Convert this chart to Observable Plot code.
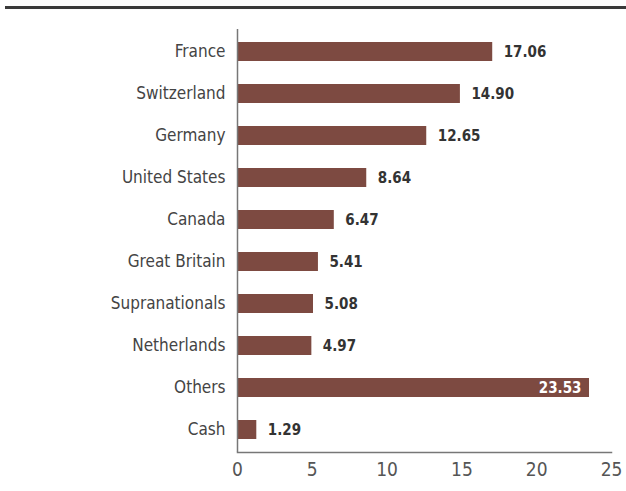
<!DOCTYPE html>
<html>
<head>
<meta charset="utf-8">
<script src="https://cdn.jsdelivr.net/npm/d3@7"></script>
<script src="https://cdn.jsdelivr.net/npm/@observablehq/plot@0.6"></script>
<style>
  html, body { margin: 0; padding: 0; background: #fff; }
  #wrap { position: relative; width: 626px; height: 491px; }
  #topline { position: absolute; top: 6px; left: 5px; right: 0; height: 3px; background: #3a3a3a; }
  svg text { font-stretch: condensed; }
</style>
</head>
<body>
<div id="wrap"><div id="topline"></div><div id="chart"></div></div>
<script>
const countries = ["France", "Switzerland", "Germany", "United States", "Canada", "Great Britain", "Supranationals", "Netherlands", "Others", "Cash"];
const weights = [17.06, 14.90, 12.65, 8.64, 6.47, 5.41, 5.08, 4.97, 23.53, 1.29];
const xTicks = [0, 5, 10, 15, 20, 25];

const data = countries.map((c, i) => ({country: c, value: weights[i], inside: weights[i] > 20}));
const font = "'DejaVu Sans Condensed', 'DejaVu Sans', sans-serif";

const chart = Plot.plot({
  width: 626,
  height: 491,
  marginLeft: 237,
  marginRight: 15,
  marginTop: 29,
  marginBottom: 39,
  style: {fontFamily: font, background: "transparent"},
  x: {domain: [0, 25], ticks: xTicks},
  y: {domain: countries, paddingInner: 0.55, paddingOuter: 0.275},
  marks: [
    Plot.barX(data, {x: "value", y: "country", fill: "#7d4a41"}),
    Plot.text(data.filter(d => !d.inside), {x: "value", y: "country", text: d => d.value.toFixed(2), textAnchor: "start", dx: 11, fill: "#333", fontWeight: "bold", fontSize: 15}),
    Plot.text(data.filter(d => d.inside), {x: "value", y: "country", text: d => d.value.toFixed(2), textAnchor: "end", dx: -8, fill: "#fff", fontWeight: "bold", fontSize: 15}),
    Plot.axisY({tickSize: 0, tickPadding: 12, fontSize: 17, color: "#444", label: null}),
    Plot.axisX({ticks: xTicks, tickSize: 0, tickPadding: 10, fontSize: 19, color: "#555", label: null}),
    Plot.ruleX([0], {stroke: "#777", strokeWidth: 1.5}),
    Plot.frame({anchor: "bottom", stroke: "#777", strokeWidth: 1.5})
  ]
});
document.getElementById("chart").appendChild(chart);
</script>
</body>
</html>
